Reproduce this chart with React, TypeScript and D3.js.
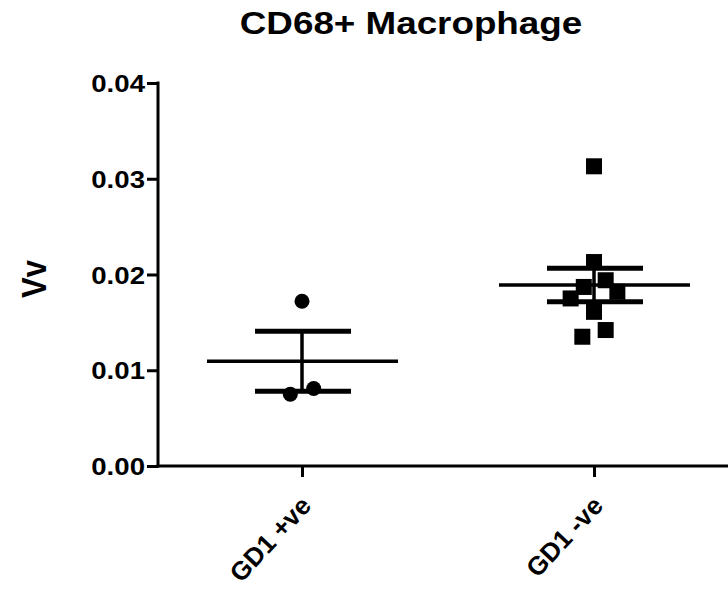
import React, { useEffect, useRef } from 'react';
import * as d3 from 'd3';

// values
const groups = ['GD1 +ve', 'GD1 -ve'];
const gd1Pos = [0.0172, 0.0075, 0.0081];
const gd1Neg = [0.0313, 0.0213, 0.0194, 0.0187, 0.0175, 0.0182, 0.0161, 0.0142, 0.0135];
// horizontal scatter of points, as fraction of the band step
const jitterPos = [0.0, -0.04, 0.04];
const jitterNeg = [0.0, 0.0, 0.04, -0.035, -0.08, 0.08, 0.0, 0.04, -0.04];
const yTicks = [0, 0.01, 0.02, 0.03, 0.04];

const App = () => {
    const svgRef = useRef<SVGSVGElement>(null);

    useEffect(() => {
        const svg = d3.select(svgRef.current);
        svg.selectAll('*').remove();

        const left = 158, right = 728, top = 83, bottom = 466;
        const font = 'Liberation Sans, Arial, sans-serif';
        const sx = 1.15; // text in the original is stretched horizontally

        const x = d3.scalePoint<string>().domain(groups).range([302, 594]);
        const step = 292;
        const y = d3.scaleLinear().domain([0, 0.04]).range([bottom, top]);

        // title
        svg.append('text')
            .attr('transform', `translate(411,34) scale(${sx},1)`)
            .attr('text-anchor', 'middle')
            .style('font-family', font).style('font-weight', 'bold').style('font-size', '32px')
            .text('CD68+ Macrophage');

        // y label
        svg.append('text')
            .attr('transform', `translate(46,279) scale(${sx},1) rotate(-90)`)
            .attr('text-anchor', 'middle')
            .style('font-family', font).style('font-weight', 'bold').style('font-size', '31px')
            .text('Vv');

        // y axis
        const yAxis = svg.append('g')
            .attr('transform', `translate(${left},0)`)
            .call(d3.axisLeft(y).tickValues(yTicks).tickFormat(d3.format('.2f')).tickSize(11).tickSizeOuter(0));
        yAxis.select('.domain').attr('stroke-width', 3).attr('d', `M0,${bottom + 1.5}V${top - 1.5}`);
        yAxis.selectAll('.tick line').attr('stroke-width', 3);
        yAxis.selectAll('.tick text')
            .style('font-family', font).style('font-weight', 'bold').style('font-size', '24px')
            .attr('fill', '#000')
            .attr('x', 0).attr('dy', '0.36em')
            .attr('transform', `translate(-13,0) scale(${sx},1)`);

        // x axis
        const xAxis = svg.append('g')
            .attr('transform', `translate(0,${bottom})`)
            .call(d3.axisBottom(x).tickSize(11).tickSizeOuter(0));
        xAxis.select('.domain').attr('stroke-width', 3).attr('d', `M${left - 1.5},0H${right}`);
        xAxis.selectAll('.tick line').attr('stroke-width', 3);
        xAxis.selectAll('.tick text')
            .style('font-family', font).style('font-weight', 'bold').style('font-size', '26px')
            .attr('fill', '#000')
            .attr('text-anchor', 'end')
            .attr('transform', 'translate(10,41) rotate(-47)')
            .attr('y', 0).attr('dy', 0).attr('x', 0);

        const sets = [
            { name: groups[0], values: gd1Pos, jitter: jitterPos, shape: 'circle' },
            { name: groups[1], values: gd1Neg, jitter: jitterNeg, shape: 'square' },
        ];

        sets.forEach(s => {
            const cx = x(s.name)!;
            const mean = d3.mean(s.values)!;
            const sem = d3.deviation(s.values)! / Math.sqrt(s.values.length);

            const g = svg.append('g');
            if (s.shape === 'circle') {
                g.selectAll('circle').data(s.values).enter().append('circle')
                    .attr('cx', (d, i) => cx + s.jitter[i] * step)
                    .attr('cy', d => y(d))
                    .attr('r', 7.5)
                    .attr('fill', '#000');
            } else {
                g.selectAll('rect').data(s.values).enter().append('rect')
                    .attr('x', (d, i) => cx + s.jitter[i] * step - 8)
                    .attr('y', d => y(d) - 8)
                    .attr('width', 16).attr('height', 16)
                    .attr('fill', '#000');
            }

            // mean line
            g.append('line')
                .attr('x1', cx - 95).attr('x2', cx + 96)
                .attr('y1', y(mean)).attr('y2', y(mean))
                .attr('stroke', '#000').attr('stroke-width', 3.5);
            // SEM whisker
            g.append('line')
                .attr('x1', cx).attr('x2', cx)
                .attr('y1', y(mean + sem)).attr('y2', y(mean - sem))
                .attr('stroke', '#000').attr('stroke-width', 3.5);
            [mean + sem, mean - sem].forEach(v => {
                g.append('line')
                    .attr('x1', cx - 47).attr('x2', cx + 49)
                    .attr('y1', y(v)).attr('y2', y(v))
                    .attr('stroke', '#000').attr('stroke-width', 5);
            });
        });
    }, []);

    return (
        <svg ref={svgRef} width={728} height={590} style={{ position: 'absolute', left: 0, top: 0, background: '#fff' }} />
    );
};

export default App;
